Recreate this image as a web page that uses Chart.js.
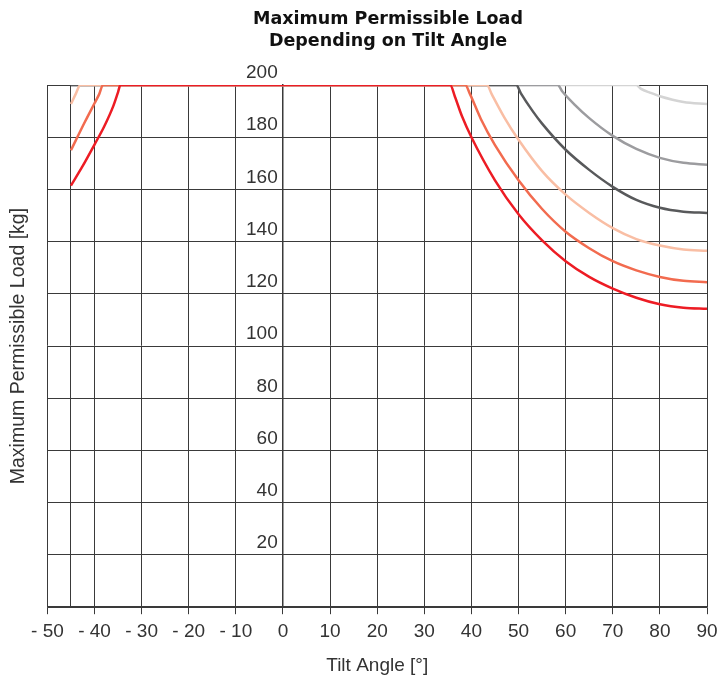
<!DOCTYPE html>
<html>
<head>
<meta charset="utf-8">
<script src="https://cdn.jsdelivr.net/npm/chart.js@4.4.1/dist/chart.umd.min.js"></script>
<style>
  html, body { margin: 0; padding: 0; background: #fff; }
</style>
</head>
<body>
<canvas id="loadChart" width="721" height="679"></canvas>
<script>
// values
const chartTitle = ['Maximum Permissible Load', 'Depending on Tilt Angle'];
const xTitle = 'Tilt Angle [°]';
const yTitle = 'Maximum Permissible Load [kg]';

const xGrid = [-50, -45, -40, -30, -20, -10, 0, 10, 20, 30, 40, 50, 60, 70, 80, 90];
const xLabeled = [-50, -40, -30, -20, -10, 0, 10, 20, 30, 40, 50, 60, 70, 80, 90];
const yGrid = [0, 20, 40, 60, 80, 100, 120, 140, 160, 180, 200];
const yLabeled = [20, 40, 60, 80, 100, 120, 140, 160, 180, 200];

const redAngles = [-45, -42.5, -40, -38, -36, -35, -34.5, 35.5, 36.5, 38, 40, 45, 50, 55, 60, 65, 70, 75, 80, 85, 90];
const redLoads = [161.5, 169, 177.2, 183.9, 192, 197.3, 200, 200, 195.5, 188, 180, 163.5, 150.5, 140.5, 132.5, 126.5, 122, 118.5, 116, 114.7, 114.3];

const orangeAngles = [-45, -42, -40, -39, -38.2, 38.7, 39.7, 42, 45, 50, 55, 60, 65, 70, 75, 80, 85, 90];
const orangeLoads = [175, 186, 193, 196.5, 200, 200, 196.5, 187, 177, 163.5, 152.5, 143.8, 137.5, 132.5, 129, 126.5, 125, 124.5];

const salmonAngles = [-45, -44, -43, 43.3, 44.3, 47, 50, 55, 60, 65, 70, 75, 80, 85, 90];
const salmonLoads = [192.7, 196.5, 200, 200, 196.5, 187.5, 179, 167, 158, 151, 145.2, 141, 138.5, 137, 136.5];

const darkAngles = [-45, 49.5, 50.5, 53, 55, 60, 65, 70, 75, 80, 85, 90];
const darkLoads = [200, 200, 196.8, 190, 185.2, 175.2, 167.5, 161, 156, 153, 151.5, 151];

const midAngles = [-45, 58.3, 59.3, 62, 65, 70, 75, 80, 85, 90];
const midLoads = [200, 200, 197.5, 192.3, 187.3, 180.5, 175.5, 172.1, 170.2, 169.5];

const lightAngles = [-45, 75, 76, 78, 80, 85, 90];
const lightLoads = [200, 200, 198.5, 197, 195.7, 193.5, 192.7];

const gridColor = '#3a3a3a';
const textColor = '#333';

function curve(angles, loads, color) {
    return {
        data: angles.map((a, i) => ({ x: a, y: loads[i] })),
        borderColor: color,
        borderWidth: 2.5,
        pointRadius: 0,
        fill: false,
        cubicInterpolationMode: 'monotone',
        yAxisID: 'y'
    };
}

// two-line bold heading, sits a bit right of the plot centre like the original
const headingPlugin = {
    id: 'heading',
    afterDraw(chart) {
        const ctx = chart.ctx;
        ctx.save();
        ctx.font = 'bold 17.5px "DejaVu Sans"';
        ctx.fillStyle = '#111';
        ctx.textAlign = 'center';
        ctx.textBaseline = 'middle';
        chartTitle.forEach((line, i) => ctx.fillText(line, 388, 19.5 + i * 22));
        ctx.restore();
    }
};

const ctx = document.getElementById('loadChart').getContext('2d');
new Chart(ctx, {
    type: 'line',
    data: {
        // first dataset is painted on top
        datasets: [
            curve(redAngles, redLoads, '#ed1c24'),
            curve(orangeAngles, orangeLoads, '#f26b4f'),
            curve(salmonAngles, salmonLoads, '#f9bea4'),
            curve(darkAngles, darkLoads, '#58595b'),
            curve(midAngles, midLoads, '#9c9c9f'),
            curve(lightAngles, lightLoads, '#d4d4d4')
        ]
    },
    options: {
        responsive: false,
        animation: false,
        layout: { padding: { top: 85, right: 0, bottom: 4, left: 0 } },
        plugins: {
            legend: { display: false },
            tooltip: { enabled: false }
        },
        scales: {
            x: {
                type: 'linear',
                min: -50,
                max: 90,
                afterBuildTicks: scale => { scale.ticks = xGrid.map(v => ({ value: v })); },
                // leave only enough room on the right for the "90" label
                afterFit: scale => { scale.paddingRight = 14; },
                ticks: {
                    autoSkip: false,
                    maxRotation: 0,
                    padding: 6,
                    color: textColor,
                    font: { family: 'Liberation Sans', size: 19 },
                    callback: v => xLabeled.includes(v) ? (v < 0 ? '- ' + Math.abs(v) : String(v)) : ''
                },
                grid: {
                    color: gridColor,
                    lineWidth: 1,
                    tickLength: 7,
                    tickColor: c => (c.tick && xLabeled.includes(c.tick.value)) ? gridColor : 'rgba(0,0,0,0)'
                },
                border: { color: gridColor, width: 1.5 },
                title: {
                    display: true,
                    text: xTitle,
                    color: textColor,
                    font: { family: 'Liberation Sans', size: 19, lineHeight: 1 },
                    padding: { top: 7, bottom: 0 }
                }
            },
            y: {
                type: 'linear',
                position: { x: 0 },
                min: 0,
                max: 200,
                afterBuildTicks: scale => { scale.ticks = yGrid.map(v => ({ value: v })); },
                ticks: {
                    labelOffset: -12,
                    color: textColor,
                    font: { family: 'Liberation Sans', size: 19 },
                    // trailing space keeps the right-aligned label off the axis line
                    callback: v => yLabeled.includes(v) ? v + ' ' : ''
                },
                grid: {
                    color: gridColor,
                    lineWidth: 1,
                    tickLength: 4
                },
                border: { color: gridColor, width: 1.5 }
            },
            yTitle: {
                axis: 'y',
                type: 'linear',
                position: 'left',
                min: 0,
                max: 200,
                ticks: { display: false },
                grid: { display: false, drawTicks: false },
                border: { display: false },
                title: {
                    display: true,
                    text: yTitle,
                    color: textColor,
                    font: { family: 'Liberation Sans', size: 19.5 },
                    padding: { top: 7, bottom: 17 }
                }
            }
        }
    },
    plugins: [headingPlugin]
});
</script>
</body>
</html>
